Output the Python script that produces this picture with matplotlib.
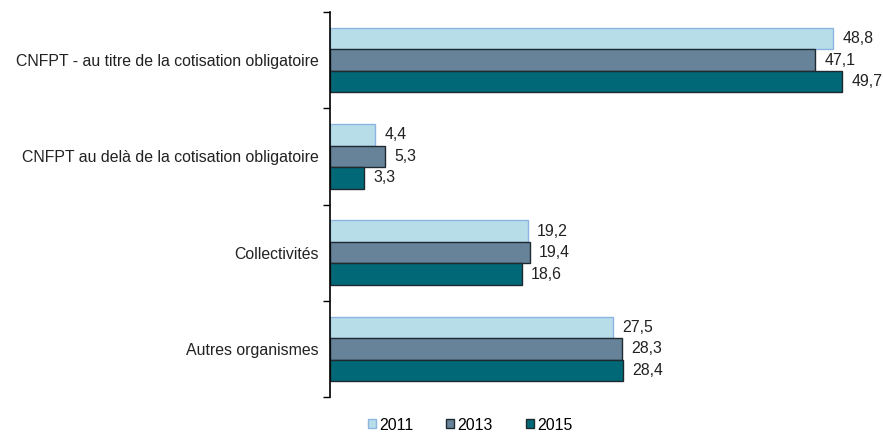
import matplotlib
matplotlib.use("Agg")
import matplotlib.pyplot as plt
import numpy as np

plt.rcParams['font.family'] = ['Liberation Sans', 'DejaVu Sans']

categories = ["CNFPT - au titre de la cotisation obligatoire",
              "CNFPT au delà de la cotisation obligatoire",
              "Collectivités",
              "Autres organismes"]
years = ["2011", "2013", "2015"]
v2011 = [48.8, 4.4, 19.2, 27.5]
v2013 = [47.1, 5.3, 19.4, 28.3]
v2015 = [49.7, 3.3, 18.6, 28.4]

series = [v2011, v2013, v2015]
colors = ["#B7DDE8", "#678399", "#006877"]
edges = ["#8EB4E3", "#1F2A30", "#1F2A30"]

W, H = 883, 433
fig = plt.figure(figsize=(W/100, H/100), dpi=100)
ax_left = 330 / W
ax_bottom = 1 - 397 / H
ax_top = 1 - 12 / H
ax = fig.add_axes([ax_left, ax_bottom, 1 - ax_left, ax_top - ax_bottom])

scale = (833 - 330) / 48.8
ax.set_xlim(0, (W - 330) / scale)
n = len(categories)
ax.set_ylim(n, 0)

fs = 11.4
bh = 0.223
y = np.arange(n) + 0.5
for i, (vals, c, e) in enumerate(zip(series, colors, edges)):
    pos = y + (i - 1) * bh
    ax.barh(pos, vals, height=bh, color=c, edgecolor=e, linewidth=1.0, label=years[i])
    for p, v in zip(pos, vals):
        ax.text(v + 0.9, p, f"{v:.1f}".replace(".", ","), va="center", ha="left",
                fontsize=fs, color="#222222")

ax.set_yticks(np.arange(n + 1))
ax.set_yticklabels([])
ax.set_yticks(y, minor=True)
ax.set_yticklabels(categories, minor=True, fontsize=fs, color="#222222")
ax.tick_params(axis='y', which='major', length=5, direction='out', width=1)
ax.tick_params(axis='y', which='minor', length=0, pad=8)
ax.set_xticks([])
for s in ["top", "right", "bottom"]:
    ax.spines[s].set_visible(False)
ax.spines["left"].set_linewidth(1.2)

handles, labels = ax.get_legend_handles_labels()
fig.legend(handles, labels, loc="center", bbox_to_anchor=(470 / W, 1 - 425 / H),
           ncol=3, frameon=False, fontsize=fs, handlelength=0.5, handleheight=0.5,
           handletextpad=0.2, columnspacing=2.1)

fig.savefig("out.png", dpi=100)
